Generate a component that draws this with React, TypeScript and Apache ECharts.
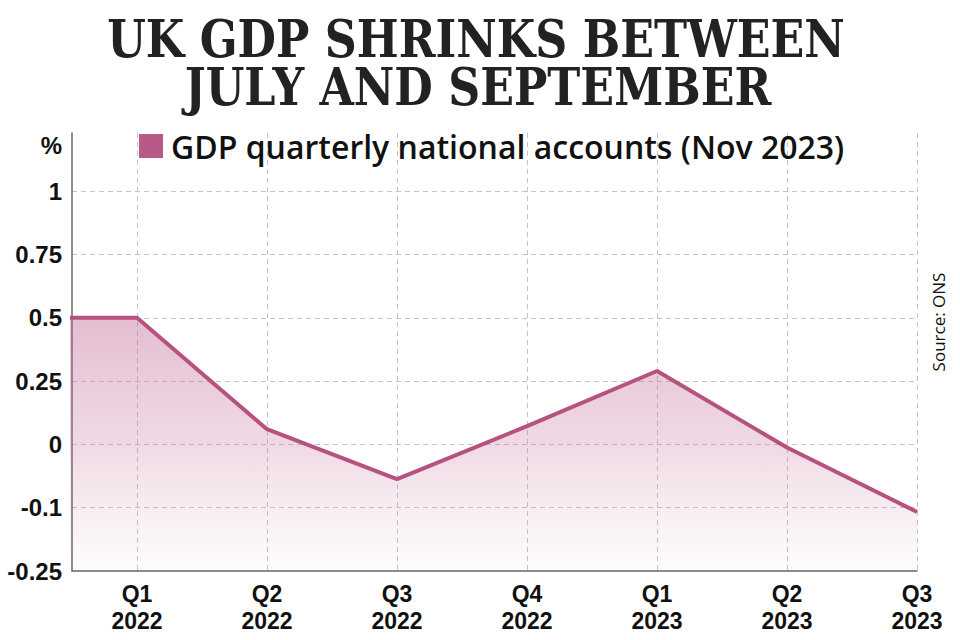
import React, { useEffect, useRef } from "react";
import * as echarts from "echarts";

// ---- data ----
const quarters = ["Q1\n2022", "Q2\n2022", "Q3\n2022", "Q4\n2022", "Q1\n2023", "Q2\n2023", "Q3\n2023"];
const gdpGrowth = [0.5, 0.06, -0.055, 0.072, 0.29, -0.005, -0.11];
// value of the quarter before Q1 2022, seen as the flat lead-in at the left edge
const leadInGrowth = 0.5;
// y-axis ticks (the chart spaces these evenly)
const tickValues = [-0.25, -0.1, 0, 0.25, 0.5, 0.75, 1];
const tickLabels = ["-0.25", "-0.1", "0", "0.25", "0.5", "0.75", "1"];

const titleLines = ["UK GDP SHRINKS BETWEEN", "JULY AND SEPTEMBER"];
const seriesName = "GDP quarterly national accounts (Nov 2023)";
const sourceText = "Source: ONS";

// map a value to its position on the evenly spaced tick scale
function toPos(v: number): number {
  for (let i = 0; i < tickValues.length - 1; i++) {
    const a = tickValues[i];
    const b = tickValues[i + 1];
    if (v <= b || i === tickValues.length - 2) {
      return i + (v - a) / (b - a);
    }
  }
  return 0;
}

const LINE = "#b5527f";
const NUM_FONT = "'Liberation Sans', Arimo, sans-serif";
const TITLE_FONT = "'DejaVu Serif Condensed', 'DejaVu Serif', serif";
const SANS = "'Open Sans', 'Noto Sans', sans-serif";

export default function App() {
  const ref = useRef<HTMLDivElement>(null);
  useEffect(() => {
    if (!ref.current) return;
    const chart = echarts.init(ref.current, undefined, { renderer: "svg" });
    const data: number[][] = [[-1, toPos(leadInGrowth)]];
    gdpGrowth.forEach((v, i) => data.push([i, toPos(v)]));
    chart.setOption({
      animation: false,
      backgroundColor: "#ffffff",
      grid: { left: 72, right: 43, top: 133, bottom: 69, containLabel: false },
      legend: {
        left: 134,
        top: 125,
        icon: "rect",
        itemWidth: 24,
        itemHeight: 24,
        itemGap: 10,
        textStyle: { fontSize: 32, fontFamily: SANS, fontWeight: 600, color: "#111", padding: [0, 0, 0, 3] },
        data: [{ name: seriesName, itemStyle: { color: "#b85a87" } }],
      },
      xAxis: {
        type: "value",
        min: -0.5,
        max: 6,
        axisLine: { show: true, onZero: false, lineStyle: { color: "#666", width: 1.5 } },
        axisTick: { show: false, customValues: quarters.map((_, i) => i) },
        axisLabel: {
          customValues: quarters.map((_, i) => i),
          formatter: (v: number) => quarters[Math.round(v)] ?? "",
          fontFamily: NUM_FONT,
          fontWeight: "bold",
          fontSize: 23,
          lineHeight: 27,
          color: "#111",
          margin: 9,
        },
        splitLine: { show: true, lineStyle: { color: "#c4c4c4", type: [5, 4], width: 1 } },
      },
      yAxis: {
        type: "value",
        min: 0,
        max: 6.92,
        interval: 1,
        axisLine: { show: true, onZero: false, lineStyle: { color: "#666", width: 1.5 } },
        axisTick: { show: false },
        axisLabel: {
          formatter: (v: number) => tickLabels[Math.round(v)] ?? "",
          showMaxLabel: false,
          fontFamily: NUM_FONT,
          fontWeight: "bold",
          fontSize: 24,
          color: "#111",
          margin: 10,
        },
        splitLine: { show: true, showMaxLine: false, showMinLine: false, lineStyle: { color: "#c4c4c4", type: [5, 4], width: 1 } },
      },
      graphic: [
        {
          type: "text",
          x: 476,
          y: 12,
          scaleX: 0.93,
          style: { text: titleLines[0], font: `bold 53px ${TITLE_FONT}`, fill: "#222", align: "center", verticalAlign: "top" },
        },
        {
          type: "text",
          x: 478,
          y: 60,
          scaleX: 0.93,
          style: { text: titleLines[1], font: `bold 53px ${TITLE_FONT}`, fill: "#222", align: "center", verticalAlign: "top" },
        },
        {
          type: "text",
          x: 62,
          y: 145,
          style: { text: "%", font: `bold 24px ${NUM_FONT}`, fill: "#111", align: "right", verticalAlign: "middle" },
        },
        {
          type: "text",
          x: 938,
          y: 322,
          rotation: Math.PI / 2,
          style: { text: sourceText, font: `17px ${SANS}`, fill: "#111", align: "center", verticalAlign: "middle" },
        },
      ],
      series: [
        {
          name: seriesName,
          type: "line",
          data,
          clip: true,
          symbol: "none",
          lineStyle: { color: LINE, width: 4 },
          itemStyle: { color: LINE },
          areaStyle: {
            origin: "start",
            color: {
              type: "linear",
              x: 0, y: 0, x2: 0, y2: 1,
              colorStops: [
                { offset: 0, color: "rgba(190,105,148,0.62)" },
                { offset: 0.5, color: "rgba(200,120,160,0.40)" },
                { offset: 1, color: "rgba(210,140,175,0.03)" },
              ],
            },
          },
        },
      ],
    });
    return () => chart.dispose();
  }, []);
  return <div ref={ref} style={{ width: 960, height: 640, position: "absolute", left: 0, top: 0 }} />;
}
